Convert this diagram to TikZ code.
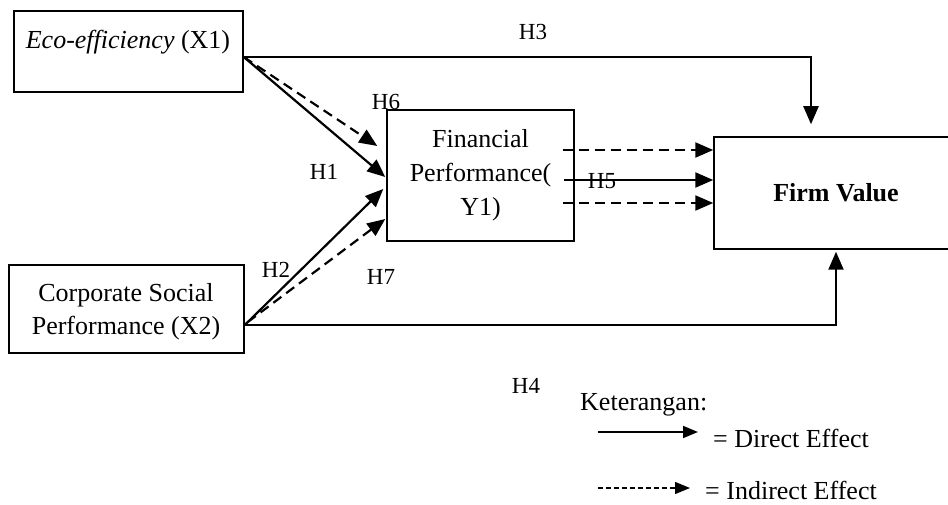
\documentclass[tikz,border=0pt]{standalone}
\usepackage{fontspec}
\setmainfont{Liberation Serif}
\usetikzlibrary{arrows.meta}
\begin{document}
\begin{tikzpicture}[x=1pt,y=-1pt,
  box/.style={draw, line width=1.5pt, inner sep=0pt, align=center,
              font=\fontsize{26}{34}\selectfont},
  txt/.style={inner sep=0pt, align=center, font=\fontsize{26}{33}\selectfont},
  hlab/.style={inner sep=0pt, font=\fontsize{23}{26}\selectfont},
  tip/.style={-{Triangle[length=18pt,width=15pt]}},
  direct/.style={tip, line width=2.2pt},
  indirect/.style={tip, line width=2.2pt, dash pattern=on 10pt off 6pt},
  legdirect/.style={-{Triangle[length=15pt,width=12pt]}, line width=1.8pt},
  legindirect/.style={-{Triangle[length=15pt,width=12pt]}, line width=1.3pt,
                      dash pattern=on 5pt off 3pt}]
\useasboundingbox (0,0) rectangle (948,505);

% boxes
\node[box, minimum width=229pt, minimum height=81pt] (x1) at (128.5,51.5) {};
\node[txt] (x1t) at (128,42) {\textit{Eco-efficiency} (X1)};
\node[box, minimum width=235pt, minimum height=88pt] (x2) at (126.5,309) {};
\node[txt] (x2t) at (126,311.5) {Corporate Social\\Performance (X2)};
\node[box, minimum width=187pt, minimum height=131pt] (y1) at (480.5,175.5)
  {Financial\\Performance(\\Y1)};
\node[box, minimum width=244pt, minimum height=112pt] (fv) at (836,193)
  {\raisebox{-4pt}{\bfseries Firm Value}};

% direct and indirect paths
\draw[direct] ([yshift=-5.5pt]x1.east) -| ([xshift=-25pt,yshift=12pt]fv.north);
\draw[indirect] ([yshift=-5.5pt]x1.east) -- ([xshift=-9pt,yshift=29.5pt]y1.west);
\draw[direct] ([yshift=-5.5pt]x1.east) -- ([xshift=-1pt,yshift=-1.5pt]y1.west);
\draw[direct] ([yshift=-16pt]x2.east) -- ([xshift=-3pt,yshift=-13.5pt]y1.west);
\draw[indirect] ([xshift=3pt,yshift=-13pt]x2.east) -- ([xshift=-1pt,yshift=-43.5pt]y1.west);
\draw[direct] ([yshift=-16pt]x2.east) -| ([yshift=-2pt]fv.south);
\draw[indirect] ([xshift=-12pt,yshift=25.5pt]y1.east) -- ([yshift=43pt]fv.west);
\draw[direct] ([xshift=-11pt,yshift=-4.5pt]y1.east) -- ([yshift=13pt]fv.west);
\draw[indirect] ([xshift=-12pt,yshift=-27.5pt]y1.east) -- ([yshift=-10pt]fv.west);

% hypothesis labels
\node[hlab] (h3) at (533,32) {H3};
\node[hlab] (h6) at (386,102) {H6};
\node[hlab] (h1) at (324,172) {H1};
\node[hlab] (h5) at (602,181) {H5};
\node[hlab] (h2) at (276,270) {H2};
\node[hlab] (h7) at (381,277) {H7};
\node[hlab] (h4) at (526,386) {H4};

% legend
\node[txt, anchor=west] (ket) at (580,405) {Keterangan:};
\coordinate (ld1) at (598,432);
\coordinate (ld2) at (698,432);
\draw[legdirect] (ld1) -- (ld2);
\node[txt, anchor=west] (ldt) at (713,438) {= Direct Effect};
\coordinate (li1) at (598,488);
\coordinate (li2) at (690,488);
\draw[legindirect] (li1) -- (li2);
\node[txt, anchor=west] (lit) at (705,490) {= Indirect Effect};
\end{tikzpicture}
\end{document}
